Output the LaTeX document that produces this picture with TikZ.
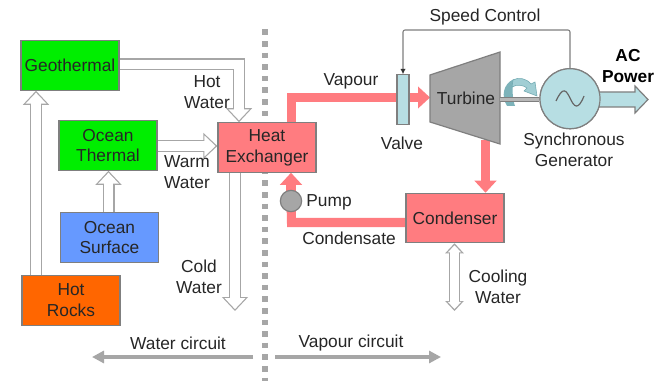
\documentclass[tikz,border=0pt]{standalone}
\usepackage{fontspec}
\setmainfont{Liberation Sans}
\usetikzlibrary{arrows.meta,backgrounds,calc}
\definecolor{txt}{HTML}{262626}
\definecolor{pinkf}{HTML}{FF7C80}
\definecolor{edgeg}{HTML}{7F7F7F}
\definecolor{hollowg}{HTML}{A6A6A6}
\definecolor{teal}{HTML}{B7DEE3}
\definecolor{tealdk}{HTML}{6FA8B0}
\definecolor{geogreen}{HTML}{00EE00}
\definecolor{oblue}{HTML}{6699FF}
\definecolor{orng}{HTML}{FF6600}
\newcommand{\hollowline}[1]{\draw[hollowo] #1; \draw[hollowi] #1;}
\newcommand{\hollowtwo}[1]{\draw[hollowbo] #1; \draw[hollowbi] #1;}
\tikzset{
  x=0.75pt,y=-0.75pt,
  lbl/.style={font=\fontsize{13pt}{15.6pt}\selectfont,text=txt,align=center,inner sep=0pt},
  boxn/.style={draw=edgeg,line width=0.9pt,minimum width=73.5pt,minimum height=37pt,inner sep=0pt,align=center,text=black!85,font=\fontsize{13pt}{15.6pt}\selectfont},
  hollowo/.style={draw=hollowg,line width=9pt,-{Triangle[length=10.5pt,width=19pt]}},
  hollowi/.style={draw=white,line width=6.8pt,shorten >=1.4pt,-{Triangle[length=8.3pt,width=15.2pt]}},
  hollowbo/.style={draw=hollowg,line width=8.4pt,{Triangle[length=7.5pt,width=13.5pt]}-{Triangle[length=7.5pt,width=13.5pt]}},
  hollowbi/.style={draw=white,line width=6.2pt,shorten >=1.5pt,shorten <=1.5pt,{Triangle[length=5.4pt,width=9.8pt]}-{Triangle[length=5.4pt,width=9.8pt]}},
  steam/.style={draw=pinkf,line width=6.8pt},
  steamtip/.style={steam,-{Triangle[length=9pt,width=16pt]}},
  circuit/.style={draw=hollowg,line width=3pt,-{Triangle[length=9pt,width=9pt]}}
}
\begin{document}
\begin{tikzpicture}
\useasboundingbox (0,0) rectangle (659,381);
% divider
\coordinate (divtop) at (265,29.5);
\coordinate (divbot) at (265,381);
\draw[draw=hollowg,line width=4.2pt,dash pattern=on 4.2pt off 4.5pt] (divtop) -- (divbot);
% boxes
\node[boxn,fill=geogreen] (geo) at (70,65.5) {Geothermal};
\node[boxn,fill=geogreen] (oth) at (108,145.5) {Ocean\\Thermal};
\node[boxn,fill=pinkf] (hx) at (267,147.5) {Heat\\Exchanger};
\node[boxn,fill=oblue] (osf) at (109.5,237.5) {Ocean\\Surface};
\node[boxn,fill=orng] (hot) at (71,300.5) {Hot\\Rocks};
\node[boxn,fill=pinkf] (cond) at (455,218) {Condenser};
\node[draw=edgeg,line width=0.9pt,fill=teal,minimum width=9pt,minimum height=37pt,inner sep=0pt] (valve) at (403,99.5) {};
\node[circle,draw=edgeg,line width=0.9pt,fill=teal,minimum size=45pt,inner sep=0pt] (gen) at (570,98.7) {};
\node[circle,draw=edgeg,line width=0.9pt,fill=hollowg,minimum size=16pt,inner sep=0pt] (pump) at (291,201) {};
% turbine
\coordinate (t1) at (430,75); \coordinate (t2) at (500,52);
\coordinate (t3) at (500,144); \coordinate (t4) at (430,122);
\begin{scope}[on background layer]
  \fill[white] (0,0) rectangle (659,381);
  % steam
  \coordinate (vp) at (291.5,97.5);
  \draw[steam] (hx.north -| vp) -- (vp) -- (valve.west |- vp);
  \draw[steamtip] (valve.east |- vp) -- (t1 |- vp);
  \coordinate (tb) at (485.5,140);
  \draw[steamtip] (tb) -- (tb |- cond.north);
  \coordinate (cp) at (291.5,222.5);
  \draw[steam] (cond.west |- cp) -- (cp) -- (pump.center);
  \draw[steamtip] (pump.center) -- (pump.center |- hx.south);
  % hollow
  \coordinate (gh) at (239,64.5);
  \hollowline{(geo.east |- gh) -- (gh) -- (gh |- hx.north)}
  \coordinate (ow) at (170,146);
  \hollowline{(oth.east |- ow) -- (hx.west |- ow)}
  \coordinate (hr) at (36,276);
  \hollowline{(hot.north -| hr) -- (geo.south -| hr)}
  \coordinate (os) at (108.5,190);
  \hollowline{(osf.north -| os) -- (oth.south -| os)}
  \coordinate (cw) at (235,311);
  \hollowline{(hx.south -| cw) -- (cw)}
  \coordinate (cl) at (454.5,311);
  \hollowtwo{(cond.south -| cl) -- (cl)}
\end{scope}
% AC output
\coordinate (ac) at (648,99.5);
\draw[draw=edgeg,line width=0.9pt,fill=teal] (599,92) -- (635,92) -- (635,86) -- (ac) -- (635,113) -- (635,107) -- (599,107) -- cycle;
\draw[draw=edgeg,line width=0.9pt,fill=teal] (gen.center) circle (30);
\draw[draw=edgeg,line width=0.9pt,fill=hollowg] (t1) -- (t2) -- (t3) -- (t4) -- cycle;
% shaft
\coordinate (sh) at (520,99.5);
% rotation symbol, back part
\fill[tealdk!80!teal] (507,106) .. controls (501,96) and (503,84) .. (514,79) .. controls (512,86) and (512,98) .. (515,106) -- cycle;
\draw[draw=edgeg,line width=3.8pt] (t2 |- sh) -- (gen.west |- sh);
\draw[draw=hollowg!80!white,line width=1.6pt] (t2 |- sh) -- (gen.west |- sh);
% rotation symbol, front arrow
\fill[teal!70!tealdk,draw=tealdk,line width=0.4pt] (513,80) .. controls (518,77) and (526,78) .. (531,84) -- (535,82) -- (537,96) -- (524,91) -- (527,88) .. controls (523,85) and (517,84) .. (512,87) -- cycle;
% sine
\draw[draw=edgeg!80!black,line width=0.9pt] (556,101) .. controls (563,86) and (566,90) .. (570,98) .. controls (574,107) and (578,111) .. (584,96);
% control
\coordinate (sa) at (570,30); \coordinate (sb) at (403,30);
\draw[draw=edgeg,line width=0.8pt,rounded corners=1.5pt,-{Latex[black!80,length=4pt,width=4pt]}] (gen.north -| sa) -- (sa) -- (sb) -- (valve.north -| sb);
% circuits
\coordinate (wc) at (92,357); \coordinate (wc0) at (253,357);
\draw[circuit] (wc0) -- (wc);
\coordinate (vc) at (441,357); \coordinate (vc0) at (275,357);
\draw[circuit] (vc0) -- (vc);
% labels
\node[lbl] (l1) at (485,17) {Speed Control};
\node[lbl,font=\fontsize{13pt}{16pt}\selectfont\bfseries,text=black] (l2) at (628,66) {AC\\Power};
\node[lbl] (l3) at (351,81) {Vapour};
\node[lbl] (l4) at (402,143) {Valve};
\node[lbl,text=black!85] (l5) at (466,98.5) {Turbine};
\node[lbl] (l6) at (574,150) {Synchronous\\Generator};
\node[lbl] (l7) at (207,92.5) {Hot\\Water};
\node[lbl] (l8) at (187,172) {Warm\\Water};
\node[lbl] (l9) at (199,276.5) {Cold\\Water};
\node[lbl] (l10) at (329,202) {Pump};
\node[lbl] (l11) at (349,238) {Condensate};
\node[lbl] (l12) at (498,287) {Cooling\\Water};
\node[lbl] (l13) at (178,343) {Water circuit};
\node[lbl] (l14) at (351,343) {Vapour circuit};
\end{tikzpicture}
\end{document}
